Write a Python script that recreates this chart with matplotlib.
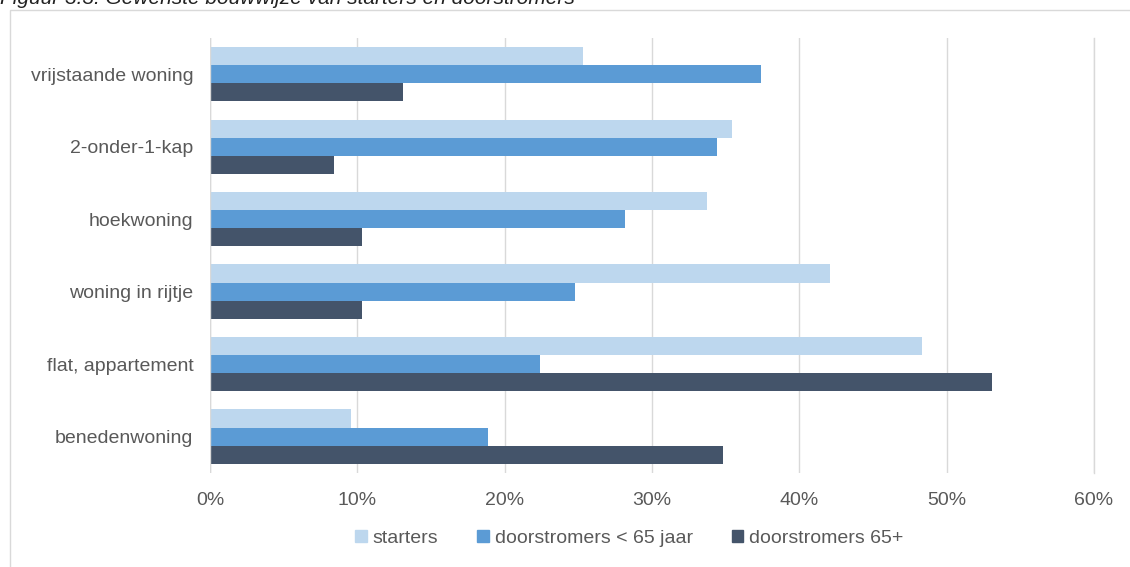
import matplotlib.pyplot as plt
import matplotlib.patches as mpatches
import numpy as np

categories = ["vrijstaande woning", "2-onder-1-kap", "hoekwoning",
              "woning in rijtje", "flat, appartement", "benedenwoning"]
starters = [25.3, 35.4, 33.7, 42.1, 48.3, 9.6]
doorstromers_jong = [37.4, 34.4, 28.2, 24.8, 22.4, 18.9]
doorstromers_oud = [13.1, 8.4, 10.3, 10.3, 53.1, 34.8]
series_names = ["starters", "doorstromers < 65 jaar", "doorstromers 65+"]
colors = ["#BDD7EE", "#5B9BD5", "#44546A"]

plt.rcParams["font.family"] = ["Liberation Sans", "DejaVu Sans"]
text_color = "#595959"
fs = 14

fig = plt.figure(figsize=(11.3, 5.67), dpi=100)
ax = fig.add_axes([210 / 1130, 0.166, 884 / 1130, 0.767])

y = np.arange(len(categories))
h = 0.25
for offset, vals, col, name in zip([-h, 0, h], [starters, doorstromers_jong, doorstromers_oud],
                                   colors, series_names):
    ax.barh(y + offset, vals, height=h, color=col, label=name, zorder=3)

ax.set_ylim(len(categories) - 0.5, -0.5)
ax.set_xlim(0, 60)
ax.set_xticks(np.arange(0, 61, 10))
ax.set_xticklabels([f"{v}%" for v in range(0, 61, 10)], fontsize=fs, color=text_color)
ax.set_yticks(y)
ax.set_yticklabels(categories, fontsize=fs, color=text_color)
ax.tick_params(axis="y", length=0, pad=12)
ax.tick_params(axis="x", length=0, pad=14)
ax.grid(axis="x", color="#d9d9d9", linewidth=1, zorder=0)
for s in ax.spines.values():
    s.set_visible(False)
ax.axvline(0, color="#d9d9d9", linewidth=1, zorder=4)
ax.axvline(60, color="#d9d9d9", linewidth=1, zorder=0, clip_on=False)

handles = [mpatches.Patch(color=c, label=n) for c, n in zip(colors, series_names)]
fig.legend(handles=handles, loc="center", bbox_to_anchor=(0.557, 0.051), ncol=3,
           frameon=False, fontsize=fs, labelcolor=text_color,
           handlelength=0.6, handleheight=0.6, handletextpad=0.3, columnspacing=2.0)

# frame around the chart
fig.add_artist(mpatches.Rectangle((10 / 1130, -0.01), 1.1, 1 - 10 / 567 + 0.01,
                                  transform=fig.transFigure, fill=False,
                                  edgecolor="#d9d9d9", linewidth=1))

# clipped caption at the top
fig.text(0.0, 1 - 4 / 567, "Figuur 3.3: Gewenste bouwwijze van starters en doorstromers",
         fontsize=15, style="italic", color="#222222", va="baseline", ha="left")

fig.savefig("out.png", dpi=100)
